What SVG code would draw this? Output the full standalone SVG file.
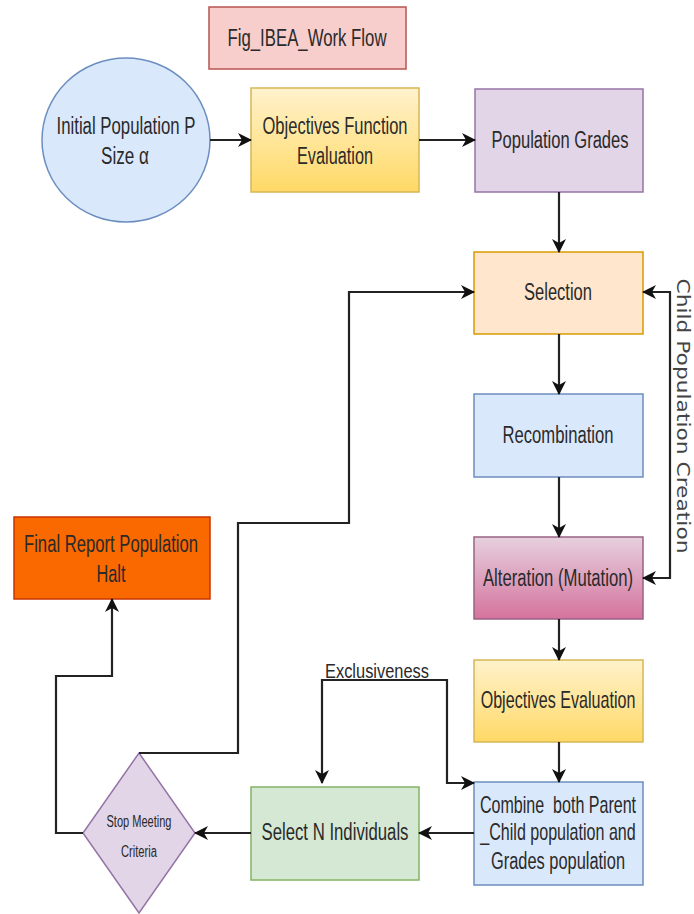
<svg xmlns="http://www.w3.org/2000/svg" width="694" height="914" viewBox="0 0 694 914">
<defs>
<linearGradient id="gy" x1="0" y1="0" x2="0" y2="1"><stop offset="0" stop-color="#fff2cc"/><stop offset="1" stop-color="#ffd966"/></linearGradient>
<linearGradient id="gp" x1="0" y1="0" x2="0" y2="1"><stop offset="0" stop-color="#e6d0de"/><stop offset="1" stop-color="#d5739d"/></linearGradient>
<marker id="ah" markerUnits="userSpaceOnUse" markerWidth="14" markerHeight="14" refX="13" refY="7" orient="auto-start-reverse"><path d="M0,0 L14,7 L0,14 L4,7 z" fill="#111"/></marker>
<style>
text{font-family:"Liberation Sans",Arial,sans-serif;fill:#2a2a2a;text-anchor:middle}
.t{font-size:23px}
.c{fill:none;stroke:#222;stroke-width:2.2}
.a{marker-end:url(#ah)}
.b{marker-start:url(#ah);marker-end:url(#ah)}
</style>
</defs>
<g id="title"><rect x="209" y="7" width="197" height="62" fill="#f8cecc" stroke="#b85450" stroke-width="1.5"/><text class="t" x="307" y="46" textLength="159" lengthAdjust="spacingAndGlyphs">Fig_IBEA_Work Flow</text></g>
<g id="initial"><ellipse cx="126" cy="140" rx="84" ry="82" fill="#dae8fc" stroke="#6c8ebf" stroke-width="1.5"/><text class="t" x="126" y="134" textLength="139" lengthAdjust="spacingAndGlyphs">Initial Population P</text><text class="t" x="125" y="164" textLength="48" lengthAdjust="spacingAndGlyphs">Size α</text></g>
<g id="ofe"><rect x="251" y="88" width="168" height="104" fill="url(#gy)" stroke="#d6b656" stroke-width="1.5"/><text class="t" x="335" y="134" textLength="145" lengthAdjust="spacingAndGlyphs">Objectives Function</text><text class="t" x="335" y="164" textLength="76" lengthAdjust="spacingAndGlyphs">Evaluation</text></g>
<g id="grades"><rect x="475" y="89" width="168" height="103" fill="#e1d5e7" stroke="#9673a6" stroke-width="1.5"/><text class="t" x="560" y="148" textLength="137" lengthAdjust="spacingAndGlyphs">Population Grades</text></g>
<g id="selection"><rect x="474" y="252" width="169" height="82" fill="#ffe6cc" stroke="#d79b00" stroke-width="1.5"/><text class="t" x="558" y="300" textLength="68" lengthAdjust="spacingAndGlyphs">Selection</text></g>
<g id="recombination"><rect x="474" y="394" width="169" height="83" fill="#dae8fc" stroke="#6c8ebf" stroke-width="1.5"/><text class="t" x="558" y="443" textLength="111" lengthAdjust="spacingAndGlyphs">Recombination</text></g>
<g id="alteration"><rect x="474" y="537" width="169" height="82" fill="url(#gp)" stroke="#996185" stroke-width="1.5"/><text class="t" x="558" y="586" textLength="150" lengthAdjust="spacingAndGlyphs">Alteration (Mutation)</text></g>
<g id="objeval"><rect x="474" y="660" width="169" height="82" fill="url(#gy)" stroke="#d6b656" stroke-width="1.5"/><text class="t" transform="translate(558,708) scale(0.7,1)" textLength="221" lengthAdjust="spacingAndGlyphs">Objectives Evaluation</text></g>
<g id="combine"><rect x="474" y="782" width="169" height="103" fill="#dae8fc" stroke="#6c8ebf" stroke-width="1.5"/><text class="t" transform="translate(558,813) scale(0.7,1)" textLength="223" lengthAdjust="spacingAndGlyphs" xml:space="preserve">Combine  both Parent</text><text class="t" transform="translate(558,840) scale(0.7,1)" textLength="222" lengthAdjust="spacingAndGlyphs">_Child population and</text><text class="t" x="558" y="869" textLength="134" lengthAdjust="spacingAndGlyphs">Grades population</text></g>
<g id="selectn"><rect x="251" y="787" width="168" height="93" fill="#d5e8d4" stroke="#82b366" stroke-width="1.5"/><text class="t" x="335" y="840" textLength="147" lengthAdjust="spacingAndGlyphs">Select N Individuals</text></g>
<g id="stop"><polygon points="139,753 195,833 139,913 83,833" fill="#e1d5e7" stroke="#9673a6" stroke-width="1.5"/><text x="139" y="827" font-size="16" textLength="65" lengthAdjust="spacingAndGlyphs">Stop Meeting</text><text x="139" y="857" font-size="16" textLength="36" lengthAdjust="spacingAndGlyphs">Criteria</text></g>
<g id="final"><rect x="14" y="517" width="196" height="82" fill="#fa6800" stroke="#c73500" stroke-width="1.5"/><text class="t" x="111" y="552" textLength="174" lengthAdjust="spacingAndGlyphs">Final Report Population</text><text class="t" x="111" y="582" textLength="29" lengthAdjust="spacingAndGlyphs">Halt</text></g>
<g id="connectors">
<path class="c a" d="M210,140 L251,140"/>
<path class="c a" d="M419,140 L475,140"/>
<path class="c a" d="M559,192 L559,252"/>
<path class="c a" d="M559,334 L559,394"/>
<path class="c a" d="M559,477 L559,537"/>
<path class="c a" d="M559,619 L559,660"/>
<path class="c a" d="M559,742 L559,782"/>
<path class="c a" d="M474,833 L419,833"/>
<path class="c a" d="M251,833 L195,833"/>
<path class="c a" d="M83,833 L56,833 L56,676 L112,676 L112,599"/>
<path class="c a" d="M139,753 L238,753 L238,523 L349,523 L349,292 L474,292"/>
<path class="c b" d="M643,292 L670,292 L670,578 L643,578"/>
<path class="c b" d="M322,783 L322,680 L447,680 L447,783 L474,783"/>
<text x="377" y="678" font-size="20" textLength="104" lengthAdjust="spacingAndGlyphs">Exclusiveness</text>
<text transform="translate(683,416) rotate(90)" dominant-baseline="central" font-size="18" style="font-family:'DejaVu Sans',sans-serif;fill:#444" textLength="275" lengthAdjust="spacingAndGlyphs">Child Population Creation</text>
</g>
</svg>
